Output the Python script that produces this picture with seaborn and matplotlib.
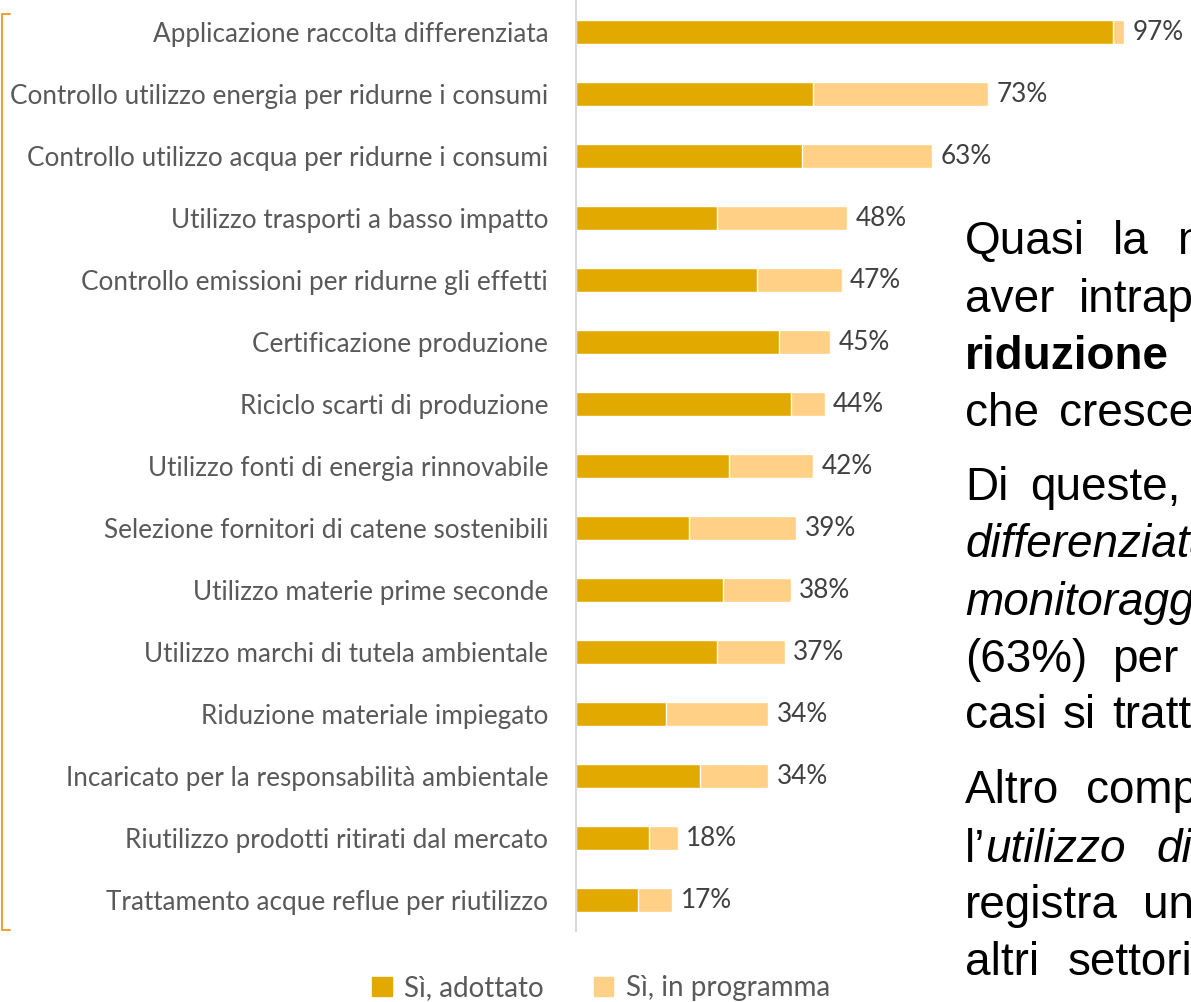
import numpy as np
import pandas as pd
import matplotlib.pyplot as plt
import seaborn as sns
from matplotlib.patches import Patch
from matplotlib.lines import Line2D

categories = [
    "Applicazione raccolta differenziata",
    "Controllo utilizzo energia per ridurne i consumi",
    "Controllo utilizzo acqua per ridurne i consumi",
    "Utilizzo trasporti a basso impatto",
    "Controllo emissioni per ridurne gli effetti",
    "Certificazione produzione",
    "Riciclo scarti di produzione",
    "Utilizzo fonti di energia rinnovabile",
    "Selezione fornitori di catene sostenibili",
    "Utilizzo materie prime seconde",
    "Utilizzo marchi di tutela ambientale",
    "Riduzione materiale impiegato",
    "Incaricato per la responsabilità ambientale",
    "Riutilizzo prodotti ritirati dal mercato",
    "Trattamento acque reflue per riutilizzo",
]
adopted = [95, 42, 40, 25, 32, 36, 38, 27, 20, 26, 25, 16, 22, 13, 11]
planned = [2, 31, 23, 23, 15, 9, 6, 15, 19, 12, 12, 18, 12, 5, 6]
total_labels = ["97%", "73%", "63%", "48%", "47%", "45%", "44%", "42%",
                "39%", "38%", "37%", "34%", "34%", "18%", "17%"]
legend_labels = ["Sì, adottato", "Sì, in programma"]

DARK = "#E2AA00"
LIGHT = "#FFD085"
W, H = 1191, 1002

df = pd.DataFrame({"cat": categories, "adopted": adopted, "planned": planned})
df["total"] = df["adopted"] + df["planned"]

sns.set_theme(style="white")
plt.rcParams["font.family"] = ["Lato", "DejaVu Sans"]

fig = plt.figure(figsize=(W / 100, H / 100), dpi=100)
ax = fig.add_axes([576 / W, 1 - 931 / H, 565 / W, 930 / H])

# light bar = total, dark bar on top = adopted
sns.barplot(data=df, x="total", y="cat", color=LIGHT, width=0.4, ax=ax,
            orient="h", saturation=1)
sns.barplot(data=df, x="adopted", y="cat", color=DARK, width=0.4, ax=ax,
            orient="h", saturation=1)

ax.set_xlim(0, 100)
ax.set_ylim(len(categories) - 0.5, -0.5)
ax.set_xlabel("")
ax.set_ylabel("")
ax.set_xticks([])
for s in ["top", "right", "bottom"]:
    ax.spines[s].set_visible(False)
ax.spines["left"].set_color("#d9d9d9")
ax.spines["left"].set_linewidth(1.5)
ax.tick_params(axis="y", length=0, pad=20, labelsize=18.8, labelcolor="#595959")

# total labels
for i, (tot, lab) in enumerate(zip(df["total"], total_labels)):
    ax.annotate(lab, (tot, i), xytext=(6, 0), textcoords="offset points",
                va="center", ha="left", fontsize=18.8, color="#404040")

# legend
handles = [Patch(color=DARK), Patch(color=LIGHT)]
fig.legend(handles, legend_labels, loc="center", ncol=2,
           bbox_to_anchor=(601 / W, 1 - 988 / H), frameon=False,
           fontsize=20, labelcolor="#595959", handlelength=0.7,
           handleheight=0.7, handletextpad=0.45, columnspacing=1.8)

# orange bracket on the left
fig.add_artist(Line2D([10 / W, 1.5 / W, 1.5 / W, 10 / W],
                      [1 - 14 / H, 1 - 14 / H, 1 - 930 / H, 1 - 930 / H],
                      color="#EDA23C", lw=1.5, transform=fig.transFigure))

# text panel on the right, justified lines cut by the figure edge
# each line: baseline y (px), gap between words (px), words with style
text_lines = [
    (254, 28, [("Quasi", "normal", "normal"), ("la", "normal", "normal"),
               ("maggior", "normal", "normal")]),
    (312, 25, [("aver", "normal", "normal"), ("intrapreso", "normal", "normal")]),
    (369, 25, [("riduzione", "bold", "normal"), ("dell’impatto", "normal", "normal")]),
    (426, 20, [("che", "normal", "normal"), ("cresce", "normal", "normal")]),
    (500, 22, [("Di", "normal", "normal"), ("queste,", "normal", "normal"),
               ("la", "normal", "normal")]),
    (557, 25, [("differenziata", "normal", "italic")]),
    (615, 25, [("monitoraggio", "normal", "italic")]),
    (672, 25, [("(63%)", "normal", "normal"), ("per", "normal", "normal"),
               ("ridurre", "normal", "normal")]),
    (728, 16, [("casi", "normal", "normal"), ("si", "normal", "normal"),
               ("tratta", "normal", "normal")]),
    (803, 27, [("Altro", "normal", "normal"), ("comportamento", "normal", "normal")]),
    (862, 30, [("l’", "normal", "normal", 0), ("utilizzo", "normal", "italic"),
               ("di", "normal", "italic")]),
    (918, 25, [("registra", "normal", "normal"), ("un", "normal", "normal"),
               ("valore", "normal", "normal")]),
    (975, 29, [("altri", "normal", "normal"), ("settori", "normal", "normal")]),
]
renderer = fig.canvas.get_renderer()
for y, gap, words in text_lines:
    x = 965
    for w in words:
        word, weight, style = w[:3]
        t = fig.text(x / W, 1 - y / H, word, fontsize=33, color="black",
                     family=["Liberation Sans", "DejaVu Sans"], weight=weight,
                     style=style, va="baseline", ha="left")
        width = t.get_window_extent(renderer).width
        x += width + (w[3] if len(w) > 3 else gap)

fig.savefig("out.png", dpi=100)
